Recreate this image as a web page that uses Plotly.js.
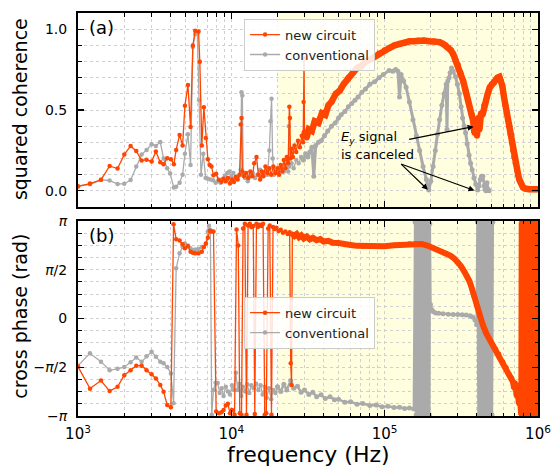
<!DOCTYPE html>
<html><head><meta charset="utf-8">
<script src="https://cdn.plot.ly/plotly-3.0.1.min.js"></script>
<style>html,body{margin:0;padding:0;background:#fff;}#chart{width:552px;height:469px;}</style>
</head><body><div id="chart"></div>
<script>
// ---------- DATA (frequency in Hz, value) ----------
// (a) squared coherence, new circuit, sparse low-frequency part
const newCohLo = [[1000,.027],[1197,.045],[1412,.068],[1608,.154],[1811,.138],[2003,.224],[2203,.278],[2398,.247],[2600,.187],[2800,.193],[3020,.181],[3220,.243],[3440,.177],[3615,.165],[3817,.202],[4035,.196],[4220,.165],[4366,.253],[4600,.346],[4810,.280],[4980,.527],[5210,.654],[5420,.395],[5610,.899],[5810,.990],[6110,.986],[6230,.798],[6420,.280],[6620,.517],[6820,.327],[7030,.196],[7240,.160],[7420,.150],[7650,.097],[7960,.105],[8290,.068],[8630,.056],[8900,.075],[9200,.06],[9500,.08],[9800,.045],[10100,.07],[10400,.055],[10700,.085],[11000,.07],[11300,.10],[11500,.41],[11650,.45],[11800,.12],[12100,.09],[12500,.11],[12900,.08],[13300,.12],[13700,.09],[14100,.17],[14600,.21],[15000,.10],[15400,.07],[15800,.12],[16200,.09],[16700,.15],[17200,.11],[17700,.14],[18200,.10],[18800,.15],[19400,.11],[20000,.14],[20500,.10],[21000,.16],[21500,.12],[22000,.19],[22500,.14],[23000,.21],[23500,.17],[23900,.52],[24100,.45],[24300,.20],[24700,.26],[25200,.21],[25800,.28],[26500,.24],[27200,.31],[28000,.27],[28800,.34],[29400,.30],[29600,.55],[29800,.82],[30000,.36]];
// (a) squared coherence, new circuit, dense high-frequency part
const newCohHi = [[30000,.36],[31000,.33],[32000,.38],[33500,.37],[35000,.43],[37000,.42],[39000,.48],[41000,.47],[43000,.53],[45000,.55],[48000,.60],[51000,.62],[54000,.66],[58000,.70],[62000,.73],[66000,.76],[70000,.77],[75000,.80],[80000,.81],[86000,.83],[92000,.85],[100000,.87],[108000,.885],[116000,.90],[125000,.91],[135000,.915],[145000,.925],[155000,.925],[165000,.93],[180000,.93],[195000,.925],[210000,.925],[228000,.92],[240000,.91],[250000,.90],[260000,.885],[270000,.87],[280000,.845],[290000,.81],[300000,.78],[312000,.73],[325000,.68],[337000,.62],[350000,.56],[360000,.51],[370000,.47],[378000,.43],[385000,.36],[392000,.44],[400000,.34],[407000,.45],[415000,.38],[425000,.48],[435000,.47],[446000,.53],[458000,.56],[470000,.60],[485000,.64],[500000,.66],[517000,.67],[532000,.69],[545000,.70],[560000,.705],[572000,.68],[585000,.65],[600000,.58],[612000,.53],[625000,.48],[637000,.44],[650000,.40],[662000,.35],[675000,.30],[688000,.25],[700000,.21],[715000,.17],[730000,.13],[742000,.10],[755000,.07],[770000,.05],[785000,.035],[800000,.02],[820000,.015],[850000,.01],[880000,.01],[920000,.01],[960000,.01],[1000000,.01]];
// (a) squared coherence, conventional
const convCohLo = [[1000,.03],[1197,.04],[1412,.068],[1608,.064],[1811,.042],[2003,.044],[2203,.067],[2398,.15],[2600,.224],[2800,.253],[3020,.288],[3220,.277],[3440,.302],[3615,.20],[3817,.14],[3990,.107],[4220,.02],[4366,.025],[4600,.05],[4810,.10],[4980,.23],[5210,.35],[5420,.16],[5610,.89],[5810,.97],[6000,.975],[6170,.56],[6340,.10],[6560,.23],[6800,.08],[7030,.075],[7300,.07],[7600,.065],[7900,.05],[8200,.06],[8500,.05],[8800,.075],[9100,.095],[9400,.11],[9700,.12],[10000,.09],[10300,.11],[10700,.08],[11100,.09],[11500,.13],[11650,.61],[11800,.59],[11950,.10],[12300,.08],[12800,.06],[13300,.09],[13800,.11],[14300,.08],[14800,.10],[15400,.13],[16000,.09],[16600,.12],[17200,.10],[17700,.25],[18000,.43],[18300,.57],[18600,.20],[19000,.10],[19500,.12],[20000,.11],[21000,.14],[22000,.12],[23000,.16],[23500,.12],[23700,.40],[23900,.15],[24700,.17],[25500,.14],[26500,.19],[27500,.17],[28500,.21],[29500,.19]];
const convCohHi = [[29500,.19],[30500,.23],[31600,.21],[32500,.24],[33500,.27],[34500,.09],[35500,.28],[37000,.30],[38500,.31],[40500,.34],[42500,.37],[45000,.40],[47500,.42],[50000,.45],[52000,.47],[55000,.49],[58000,.52],[61000,.54],[64000,.56],[67000,.58],[71000,.61],[75000,.63],[80000,.66],[86000,.675],[92000,.70],[98000,.72],[107000,.745],[113000,.74],[118000,.75],[122000,.74],[125000,.58],[128000,.72],[133000,.68],[138000,.64],[145000,.55],[153000,.44],[161000,.34],[169000,.25],[178000,.15],[187000,.07],[194000,.005],[200000,.06],[207000,.15],[214000,.25],[221000,.35],[228000,.44],[236000,.53],[244000,.60],[252000,.66],[255000,.38],[258000,.68],[263000,.70],[267000,.73],[273000,.76],[280000,.74],[290000,.705],[298000,.66],[307000,.60],[315000,.52],[322000,.45],[330000,.40],[337000,.36],[345000,.29],[355000,.22],[363000,.17],[372000,.13],[382000,.08],[393000,.04],[404000,.005],[412000,.03],[420000,.07],[428000,.09],[437000,.09],[445000,.03],[452000,.01],[458000,.0],[465000,.05],[472000,.01],[480000,.0]];
// (b) cross phase (rad), new circuit
const newPhLo = [[1000,-1.55],[1197,-2.26],[1412,-2.0],[1608,-2.34],[1811,-2.2],[2003,-1.83],[2203,-1.67],[2398,-1.52],[2600,-1.52],[2800,-1.67],[3020,-1.80],[3220,-1.93],[3440,-2.14],[3615,-2.36],[3817,-2.79],[4035,-2.86],[4200,3.04],[4366,2.55],[4600,2.51],[4810,2.39],[4980,2.26],[5210,2.33],[5420,2.15],[5610,2.12],[5810,2.10],[6110,2.10],[6420,2.15],[6620,2.30],[6820,2.42],[7030,2.60],[7240,2.83],[7420,2.80],[7650,2.80],[7960,-3.0],[8290,-3.05],[8630,-3.02],[8900,-2.95],[9200,-2.8],[9500,-2.75],[9800,-3.05],[10100,-2.95],[10500,-3.1],[10810,2.87],[11100,2.35],[11350,-3.05],[11650,-3.1],[11930,2.9],[12250,3.05],[12550,-3.1],[12860,3.0],[13200,3.05],[13500,2.95],[13900,2.98],[14220,-3.08],[14580,3.05],[14900,2.95],[15300,3.02],[15700,2.98],[16100,3.05],[16510,-3.1],[16900,-3.05],[17380,2.9],[17800,3.0],[18270,-3.1],[18710,2.95],[19200,2.88],[19700,2.92],[20300,2.82],[21000,2.86],[21700,2.76],[22500,2.8],[23300,2.72],[24000,2.78],[24400,-1.44],[24700,-2.14],[25000,2.72]];
const newPhHi = [[25000,2.72],[25800,2.66],[26700,2.72],[27600,2.62],[28600,2.68],[29700,2.58],[31000,2.64],[32500,2.55],[34000,2.6],[36000,2.52],[38000,2.56],[40000,2.48],[43000,2.5],[46000,2.44],[50000,2.43],[55000,2.38],[60000,2.37],[66000,2.34],[72000,2.33],[80000,2.32],[90000,2.32],[100000,2.33],[115000,2.36],[130000,2.38],[145000,2.41],[160000,2.42],[175000,2.40],[190000,2.35],[205000,2.29],[220000,2.22],[236000,2.16],[252000,2.10],[268000,2.03],[285000,1.93],[300000,1.83],[315000,1.68],[330000,1.52],[345000,1.35],[358000,1.19],[370000,0.98],[382000,0.72],[396000,0.43],[415000,0.10],[437000,-0.21],[460000,-0.48],[485000,-0.68],[508000,-0.85],[530000,-0.98],[555000,-1.14],[590000,-1.39],[620000,-1.58],[650000,-1.80],[670000,-1.90],[686000,-2.04],[700000,-2.25],[712000,-2.08],[725000,-2.5],[737000,-2.3],[750000,-2.75],[762000,-2.45],[772000,-2.95],[778000,-3.1],[783000,3.1],[789000,-3.1],[795000,3.1],[801000,-3.1],[807000,3.1],[813000,-3.1],[820000,3.1],[827000,-3.1],[834000,3.1],[841000,-3.1],[848000,3.1],[856000,-3.1],[864000,3.1],[872000,-3.1],[880000,3.1],[888000,-3.1],[896000,3.1],[904000,-3.1],[913000,3.1],[922000,-3.1],[931000,3.1],[940000,-3.1],[950000,3.1],[960000,-3.1],[970000,3.1],[980000,-3.1],[990000,3.1],[1000000,-3.1]];
// (b) cross phase (rad), conventional
const convPhLo = [[1000,-1.52],[1197,-1.12],[1412,-1.39],[1608,-1.67],[1811,-1.62],[2003,-1.56],[2203,-1.41],[2398,-1.26],[2600,-1.39],[2800,-1.22],[3020,-1.07],[3220,-1.23],[3440,-1.39],[3615,-1.44],[3817,-1.56],[4035,-1.77],[4200,-2.73],[4366,1.62],[4600,2.10],[4810,2.31],[4980,2.42],[5210,2.35],[5420,2.26],[5610,2.20],[5810,2.22],[6110,2.24],[6420,2.30],[6820,2.40],[7030,2.80],[7150,2.99],[7300,2.85],[7450,-3.1],[7650,-2.3],[7900,-2.07],[8150,-2.08],[8400,-2.4],[8650,-2.25],[8900,-2.5],[9200,-2.2],[9500,-2.35],[9800,-2.45],[10100,-2.15],[10400,-2.3],[10700,-1.75],[11000,-2.3],[11300,-2.1],[11600,-2.5],[11900,-2.2],[12300,-2.35],[12700,-2.12],[13100,-2.4],[13500,-2.15],[14000,-2.25],[14500,-2.1],[15000,-2.3],[15500,-2.15],[16000,-2.45],[16500,-2.2],[17000,-2.55],[17600,-2.25],[18200,-2.6],[18800,-2.3],[19400,-2.4],[20000,-2.2]];
const convPhHi = [[20000,-2.2],[21000,-2.35],[22000,-2.12],[23000,-2.3],[24400,-2.0],[25500,-2.25],[27000,-2.18],[28500,-2.38],[30000,-2.3],[32000,-2.45],[34000,-2.38],[36000,-2.52],[38500,-2.46],[41000,-2.58],[44000,-2.52],[47000,-2.62],[50000,-2.6],[55000,-2.7],[60000,-2.68],[66000,-2.76],[72000,-2.74],[80000,-2.8],[88000,-2.79],[96000,-2.84],[105000,-2.83],[115000,-2.87],[125000,-2.86],[135000,-2.9],[145000,-2.88],[155000,-2.92],[158000,3.1],[160500,-3.1],[163000,3.1],[165500,-3.1],[168000,3.1],[170500,-3.1],[173000,3.1],[175500,-3.1],[178000,3.1],[180500,-3.1],[183000,3.1],[185500,-3.1],[188000,3.1],[190500,-3.1],[193000,3.1],[195500,-3.1],[197000,3.05],[199000,0.45],[203000,0.28],[208000,0.22],[215000,0.18],[225000,0.17],[240000,0.15],[260000,0.14],[280000,0.13],[300000,0.13],[320000,0.12],[340000,0.11],[360000,0.09],[375000,0.05],[388000,-0.05],[398000,-0.2],[403000,3.1],[409000,-3.1],[415000,3.1],[421000,-3.1],[427000,3.1],[433000,-3.1],[439000,3.1],[446000,-3.1],[452000,3.1],[459000,-3.1],[466000,3.1],[473000,-3.1],[480000,3.1],[487000,-3.1],[494000,3.1],[501000,-3.1],[507000,3.1]];

// tick labels
const xTickVals = [1e3, 1e4, 1e5, 1e6];
const xTickText = ['10<sup>3</sup>', '10<sup>4</sup>', '10<sup>5</sup>', '10<sup>6</sup>'];
const cohTickVals = [0, 0.5, 1.0];
const cohTickText = ['0.0', '0.5', '1.0'];
const phTickVals = [Math.PI, Math.PI/2, 0, -Math.PI/2, -Math.PI];
const phTickText = ['<i>π</i>', '<i>π</i>/2', '0', '−<i>π</i>/2', '−<i>π</i>'];
const seriesNames = ['new circuit', 'conventional'];
const shadeStart = 2e4, shadeEnd = 1e6;
const xMin = 1e3, xMax = 1e6;

// ---------- STYLE ----------
const ORANGE = '#ff4500', GRAY = '#aaaaaa', FONT = 'DejaVu Sans';
const xs = a => a.map(p => p[0]);
const ys = a => a.map(p => p[1]);
const L = Math.log10;

function tr(arr, color, xa, ya, lw, ms, name, legend, show, rank) {
  return {x: xs(arr), y: ys(arr), xaxis: xa, yaxis: ya, type: 'scatter', mode: 'lines+markers',
    line: {color: color, width: lw}, marker: {color: color, size: ms},
    name: name, legend: legend, showlegend: show, legendrank: rank, hoverinfo: 'skip'};
}

const data = [
  tr(convCohLo, GRAY, 'x2', 'y2', 1.3, 4.5, seriesNames[1], 'legend', true, 2),
  tr(convCohHi, GRAY, 'x2', 'y2', 3, 5, seriesNames[1], 'legend', false, 3),
  tr(newCohLo, ORANGE, 'x2', 'y2', 1.3, 4.5, seriesNames[0], 'legend', true, 1),
  tr(newCohHi, ORANGE, 'x2', 'y2', 6.5, 6, seriesNames[0], 'legend', false, 4),
  tr(convPhLo, GRAY, 'x', 'y', 1.3, 4.5, seriesNames[1], 'legend2', true, 2),
  tr(convPhHi, GRAY, 'x', 'y', 2.5, 5, seriesNames[1], 'legend2', false, 3),
  tr(newPhLo, ORANGE, 'x', 'y', 1.3, 4.5, seriesNames[0], 'legend2', true, 1),
  tr(newPhHi, ORANGE, 'x', 'y', 6, 5, seriesNames[0], 'legend2', false, 4),
];

const minorX = [];
for (let d = 3; d < 6; d++) for (let k = 2; k <= 9; k++) minorX.push(k * Math.pow(10, d));

const gridC = '#d0d0d0';
function xAxis(anchor, showLabels) {
  return {type: 'log', range: [L(xMin), L(xMax)], anchor: anchor, domain: [0, 1],
    tickmode: 'array', tickvals: xTickVals, ticktext: xTickText, showticklabels: showLabels,
    ticks: 'inside', ticklen: 6, tickwidth: 1.3, tickcolor: '#000',
    showline: true, linecolor: '#000', linewidth: 2, mirror: 'ticks',
    showgrid: true, gridcolor: gridC, griddash: 'dot', gridwidth: 1, zeroline: false,
    ticklabelstandoff: 3,
    tickfont: {family: FONT, size: 15, color: '#000'},
    minor: {tickmode: 'array', tickvals: minorX, ticks: 'inside', ticklen: 3.5, tickwidth: 1, tickcolor: '#000',
      showgrid: true, gridcolor: gridC, griddash: 'dot', gridwidth: 1}};
}
function yAxis(anchor, domain, range, tv, tt, mdt) {
  return {anchor: anchor, domain: domain, range: range, tickmode: 'array', tickvals: tv, ticktext: tt,
    ticks: 'inside', ticklen: 6, tickwidth: 1.3, tickcolor: '#000',
    showline: true, linecolor: '#000', linewidth: 2, mirror: 'ticks',
    showgrid: true, gridcolor: gridC, griddash: 'dot', gridwidth: 1, zeroline: false,
    ticklabelstandoff: 6,
    tickfont: {family: FONT, size: 14, color: '#000'},
    minor: {dtick: mdt, tick0: 0, ticks: 'inside', ticklen: 3.5, tickwidth: 1, tickcolor: '#000',
      showgrid: true, gridcolor: gridC, griddash: 'dot', gridwidth: 1}};
}

const topDom = [0.5186, 1], botDom = [0, 0.4839];
// shaded band as a fraction of the x-axis domain (log axis)
const shadeF0 = (L(shadeStart) - L(xMin)) / (L(xMax) - L(xMin));
const shadeF1 = (L(shadeEnd) - L(xMin)) / (L(xMax) - L(xMin));

const legendBase = {xanchor: 'left', yanchor: 'top', bgcolor: 'rgba(255,255,255,0.85)', bordercolor: '#cccccc',
  borderwidth: 1, font: {family: FONT, size: 13, color: '#222'}, tracegroupgap: 0, itemwidth: 30};

const layout = {
  width: 552, height: 469,
  margin: {l: 78, r: 14, t: 13, b: 53},
  paper_bgcolor: '#ffffff', plot_bgcolor: 'rgba(0,0,0,0)',
  font: {family: FONT, color: '#000'},
  showlegend: true,
  xaxis: xAxis('y', true),
  xaxis2: Object.assign(xAxis('y2', false), {matches: 'x'}),
  yaxis: yAxis('x', botDom, [-Math.PI, Math.PI], phTickVals, phTickText, Math.PI / 8),
  yaxis2: yAxis('x2', topDom, [-0.1, 1.1], cohTickVals, cohTickText, 0.1),
  legend: Object.assign({x: 0.361, y: 0.986}, legendBase),
  legend2: Object.assign({x: 0.361, y: 0.296}, legendBase),
  shapes: [
    {type: 'rect', xref: 'x2 domain', yref: 'y2 domain', x0: shadeF0, x1: shadeF1, y0: 0, y1: 1,
      fillcolor: '#ffffe0', line: {width: 0}, layer: 'below'},
    {type: 'rect', xref: 'x domain', yref: 'y domain', x0: shadeF0, x1: shadeF1, y0: 0, y1: 1,
      fillcolor: '#ffffe0', line: {width: 0}, layer: 'below'}
  ],
  annotations: [
    {text: 'squared coherence', xref: 'paper', yref: 'paper', x: -0.127, y: 0.7605, textangle: -90,
      showarrow: false, xanchor: 'center', yanchor: 'middle', font: {family: FONT, size: 19}},
    {text: 'cross phase (rad)', xref: 'paper', yref: 'paper', x: -0.127, y: 0.248, textangle: -90,
      showarrow: false, xanchor: 'center', yanchor: 'middle', font: {family: FONT, size: 19}},
    {text: 'frequency (Hz)', xref: 'paper', yref: 'paper', x: 0.5, y: -0.0945,
      showarrow: false, xanchor: 'center', yanchor: 'middle', font: {family: FONT, size: 22}},
    {text: '(a)', xref: 'paper', yref: 'paper', x: 0.0217, y: 0.965, borderpad: 0,
      showarrow: false, xanchor: 'left', yanchor: 'middle', font: {family: FONT, size: 18}},
    {text: '(b)', xref: 'paper', yref: 'paper', x: 0.0217, y: 0.449, borderpad: 0,
      showarrow: false, xanchor: 'left', yanchor: 'middle', font: {family: FONT, size: 18}},
    {text: '<i>E</i><sub><i>y</i></sub> signal', xref: 'x2', yref: 'y2', x: 4.707, y: 0.333, borderpad: 0,
      showarrow: false, xanchor: 'left', yanchor: 'middle', font: {family: FONT, size: 13, color: '#000'}},
    {text: 'is canceled', xref: 'x2', yref: 'y2', x: 4.707, y: 0.222, borderpad: 0,
      showarrow: false, xanchor: 'left', yanchor: 'middle', font: {family: FONT, size: 13, color: '#000'}},
    {text: '', xref: 'x2', yref: 'y2', x: 5.58, y: 0.397, ax: -66, ay: 13, showarrow: true,
      arrowhead: 2, arrowsize: 1, arrowwidth: 1.2, arrowcolor: '#000', standoff: 0},
    {text: '', xref: 'x2', yref: 'y2', x: 5.282, y: 0.006, ax: -28, ay: -27, showarrow: true,
      arrowhead: 2, arrowsize: 1, arrowwidth: 1.2, arrowcolor: '#000', standoff: 0},
    {text: '', xref: 'x2', yref: 'y2', x: 5.586, y: 0.002, ax: -75, ay: -27, showarrow: true,
      arrowhead: 2, arrowsize: 1, arrowwidth: 1.2, arrowcolor: '#000', standoff: 0}
  ]
};

Plotly.newPlot('chart', data, layout, {displayModeBar: false, staticPlot: true});
</script>
</body></html>
